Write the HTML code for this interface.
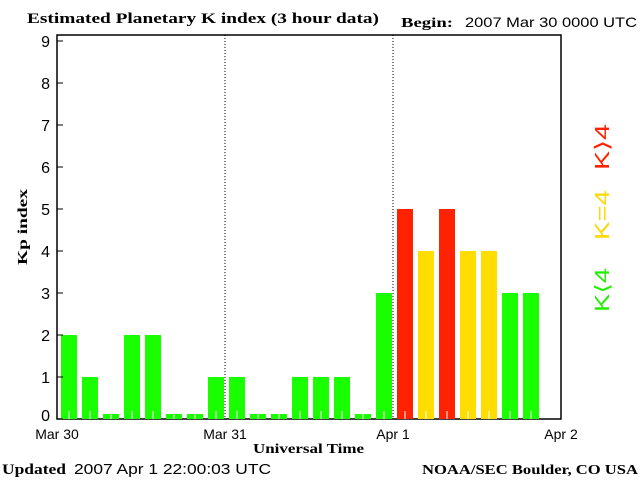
<!DOCTYPE html>
<html><head><meta charset="utf-8"><style>
body{margin:0;background:#fff}
svg{display:block}
.s{font-family:"Liberation Serif",serif;font-weight:bold}
.n{font-family:"Liberation Sans",sans-serif}
</style></head><body>
<svg id="c" width="640" height="480" xmlns="http://www.w3.org/2000/svg">
<text class="s" x="27" y="23" font-size="15" textLength="352" lengthAdjust="spacingAndGlyphs">Estimated Planetary K index (3 hour data)</text>
<text class="s" x="401" y="27" font-size="14" textLength="52" lengthAdjust="spacingAndGlyphs">Begin:</text>
<text class="n" x="465" y="27" font-size="14" textLength="172" lengthAdjust="spacingAndGlyphs">2007 Mar 30 0000 UTC</text>
<rect x="57" y="35" width="504" height="384" fill="none" stroke="#000" stroke-width="1.5"/>
<g id="bars"></g>
<g id="axes"></g>
<text class="s" x="253" y="453" font-size="14" textLength="111" lengthAdjust="spacingAndGlyphs">Universal Time</text>
<text class="s" x="27" y="265" font-size="14" textLength="76" lengthAdjust="spacingAndGlyphs" transform="rotate(-90 27 265)">Kp index</text>
<text class="s" x="2" y="474" font-size="15" textLength="64" lengthAdjust="spacingAndGlyphs">Updated</text>
<text class="n" x="74" y="474" font-size="15" textLength="197" lengthAdjust="spacingAndGlyphs">2007 Apr  1 22:00:03 UTC</text>
<text class="s" x="422" y="474" font-size="14" textLength="216" lengthAdjust="spacingAndGlyphs">NOAA/SEC Boulder, CO USA</text>
<text class="n" x="609" y="312" font-size="20" fill="#22ee00" textLength="44" lengthAdjust="spacingAndGlyphs" transform="rotate(-90 609 312)">K⟨4</text>
<text class="n" x="609" y="240" font-size="20" fill="#ffd800" textLength="50" lengthAdjust="spacingAndGlyphs" transform="rotate(-90 609 240)">K=4</text>
<text class="n" x="609" y="170" font-size="20" fill="#ff2200" textLength="46" lengthAdjust="spacingAndGlyphs" transform="rotate(-90 609 170)">K⟩4</text>
</svg>
<script>
const kpValues=[2,1,0,2,2,0,0,1,1,0,0,1,1,1,0,3,5,4,5,4,4,3,3];
const yTicks=[0,1,2,3,4,5,6,7,8,9];
const dayLabels=["Mar 30","Mar 31","Apr 1","Apr 2"];
const NS="http://www.w3.org/2000/svg";
const x0=57,slot=21,y0=419,unit=42;
const xs=i=>x0+i*slot;
const ys=v=>y0-v*unit;
function mk(t,a,p){const e=document.createElementNS(NS,t);for(const k in a)e.setAttribute(k,a[k]);p.appendChild(e);return e;}
const bars=document.getElementById('bars'),axes=document.getElementById('axes');
kpValues.forEach((v,i)=>{
  const col=v>4?'#ff2200':(v==4?'#ffdd00':'#1aff00');
  const h=Math.max(v*unit,5);
  const r=mk('rect',{x:xs(i)+4,y:y0-h,width:16,height:h,fill:col},bars);
  
  
  mk('line',{x1:xs(i)+12,x2:xs(i)+12,y1:y0-8,y2:y0,stroke:'#fff','stroke-width':1},bars);
});
yTicks.forEach(t=>{
  mk('line',{x1:57,x2:63,y1:ys(t),y2:ys(t),stroke:'#000'},axes);
  const tx=mk('text',{x:50,y:ys(t)+(t===0?2:6),'font-size':16,'text-anchor':'end','class':'n'},axes);
  tx.textContent=t;
  
  
});
dayLabels.forEach((d,i)=>{
  const x=xs(i*8);
  if(i>0&&i<3)mk('line',{x1:x,x2:x,y1:35,y2:419,stroke:'#000','stroke-dasharray':'1,2'},axes);
  const tx=mk('text',{x:x,y:439,'font-size':14,'text-anchor':'middle','class':'n'},axes);
  tx.textContent=d;
  
  
});
</script>
</body></html>
